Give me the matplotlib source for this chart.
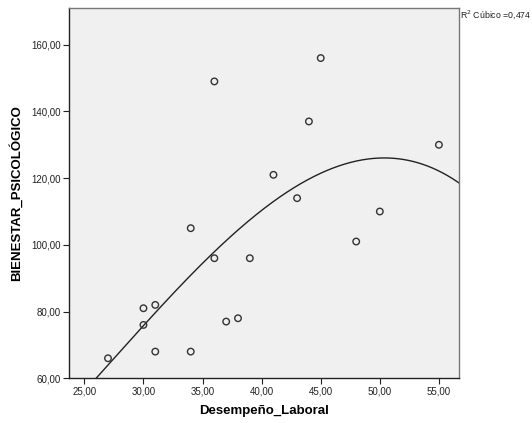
import numpy as np
import matplotlib
matplotlib.use("Agg")
import matplotlib.pyplot as plt
from matplotlib.ticker import FuncFormatter

plt.rcParams["font.family"] = ["Liberation Sans", "DejaVu Sans"]

desempeno = [27, 30, 30, 31, 31, 34, 34, 36, 36, 37, 38, 39, 41, 43, 44, 45, 48, 50, 55]
bienestar = [66, 81, 76, 82, 68, 105, 68, 149, 96, 77, 78, 96, 121, 114, 137, 156, 101, 110, 130]
x_ticks = [25, 30, 35, 40, 45, 50, 55]
y_ticks = [60, 80, 100, 120, 140, 160]

fig = plt.figure(figsize=(5.32, 4.23), dpi=100)
ax = fig.add_axes([0.1297, 0.1057, 0.8628 - 0.1297, 0.981 - 0.1057])
ax.set_facecolor("#F0F0F0")

xlim = (23.7, 56.7)
ylim = (60, 171)

coef = np.polyfit(desempeno, bienestar, 3)
xs = np.linspace(xlim[0], xlim[1], 400)
ax.plot(xs, np.polyval(coef, xs), color="#222222", lw=1.0, zorder=2)

ax.scatter(desempeno, bienestar, s=22, facecolors="none", edgecolors="#333333", linewidths=1.0, zorder=3)

ax.set_xlim(*xlim)
ax.set_ylim(*ylim)
ax.set_xticks(x_ticks)
ax.set_yticks(y_ticks)
fmt = FuncFormatter(lambda v, p: f"{v:.2f}".replace(".", ","))
ax.xaxis.set_major_formatter(fmt)
ax.yaxis.set_major_formatter(fmt)
ax.tick_params(direction="out", length=4, width=0.8, labelsize=7, colors="#222222", pad=2)

for s in ["left", "bottom"]:
    ax.spines[s].set_color("#222222")
    ax.spines[s].set_linewidth(1.0)
for s in ["top", "right"]:
    ax.spines[s].set_color("#777777")
    ax.spines[s].set_linewidth(1.0)

ax.set_xlabel("Desempeño_Laboral", fontsize=9.5, fontweight="bold", labelpad=6)
ax.set_ylabel("BIENESTAR_PSICOLÓGICO", fontsize=9.5, fontweight="bold", labelpad=6)

fig.text(460 / 532, 1 - 15 / 423, "R$^2$ Cúbico =" + f"{0.474:.3f}".replace(".", ","),
         fontsize=6.3, va="center", ha="left", color="#222222")

fig.savefig("out.png", dpi=100)
